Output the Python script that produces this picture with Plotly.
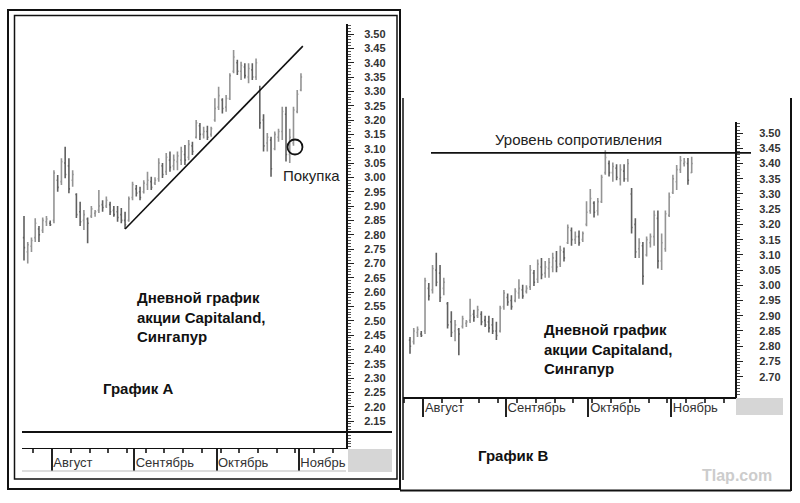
import plotly.graph_objects as go

W, H = 800, 503

# ---------------- data (daily bars, index = trading day) ----------------
HIGH = [2.865, 2.775, 2.790, 2.857, 2.830, 2.860, 2.865, 2.850, 3.025, 3.008,
        3.067, 3.107, 3.067, 3.025, 2.945, 2.915, 2.886, 2.860, 2.900, 2.886,
        2.956, 2.920, 2.933, 2.915, 2.900, 2.900, 2.893, 2.880, 2.933, 2.985,
        2.973, 2.967, 2.990, 3.020, 3.002, 3.000, 3.067, 3.050, 3.085, 3.090,
        3.080, 3.090, 3.107, 3.113, 3.130, 3.124, 3.200, 3.190, 3.177, 3.180,
        3.177, 3.276, 3.316, 3.276, 3.287, 3.363, 3.444, 3.410, 3.403, 3.398,
        3.398, 3.398, 3.415, 3.320, 3.220, 3.155, 3.142, 3.160, 3.170, 3.246,
        3.246, 3.170, 3.246, 3.305, 3.363, 3.395, 3.425, 3.418, 3.418, 3.422]
LOW = [2.710, 2.700, 2.740, 2.775, 2.775, 2.806, 2.830, 2.830, 2.840, 2.950,
       2.973, 2.997, 2.945, 2.967, 2.858, 2.830, 2.816, 2.770, 2.858, 2.863,
       2.876, 2.880, 2.893, 2.869, 2.863, 2.845, 2.840, 2.820, 2.845, 2.920,
       2.933, 2.920, 2.944, 2.956, 2.956, 2.973, 2.985, 2.998, 3.008, 3.020,
       3.025, 3.025, 3.043, 3.043, 3.060, 3.078, 3.136, 3.130, 3.136, 3.130,
       3.142, 3.194, 3.235, 3.223, 3.229, 3.270, 3.363, 3.357, 3.340, 3.345,
       3.328, 3.340, 3.340, 3.170, 3.090, 3.090, 3.002, 3.095, 3.124, 3.130,
       3.055, 3.050, 3.110, 3.224, 3.300, 3.313, 3.369, 3.390, 3.330, 3.369]
OPEN = [2.790, 2.740, 2.760, 2.790, 2.820, 2.815, 2.845, 2.840, 2.850, 2.990,
        2.985, 3.050, 3.040, 2.990, 2.940, 2.880, 2.850, 2.855, 2.865, 2.875,
        2.885, 2.905, 2.900, 2.905, 2.885, 2.880, 2.870, 2.850, 2.850, 2.930,
        2.960, 2.950, 2.950, 2.975, 2.985, 2.980, 2.995, 3.040, 3.020, 3.060,
        3.040, 3.055, 3.060, 3.080, 3.070, 3.110, 3.140, 3.180, 3.150, 3.160,
        3.150, 3.200, 3.245, 3.270, 3.245, 3.275, 3.370, 3.400, 3.370, 3.385,
        3.350, 3.375, 3.350, 3.300, 3.200, 3.120, 3.130, 3.100, 3.140, 3.160,
        3.220, 3.080, 3.120, 3.230, 3.305, 3.340, 3.380, 3.400, 3.400, 3.370]
CLOSE = [2.755, 2.765, 2.780, 2.840, 2.800, 2.850, 2.855, 2.835, 3.015, 2.965,
         3.055, 3.010, 2.960, 3.010, 2.870, 2.845, 2.870, 2.840, 2.890, 2.880,
         2.900, 2.895, 2.920, 2.880, 2.870, 2.860, 2.850, 2.835, 2.925, 2.975,
         2.945, 2.930, 2.980, 2.990, 2.965, 2.990, 3.050, 3.010, 3.070, 3.035,
         3.060, 3.075, 3.090, 3.060, 3.115, 3.090, 3.190, 3.150, 3.160, 3.140,
         3.170, 3.240, 3.285, 3.240, 3.275, 3.355, 3.420, 3.370, 3.390, 3.355,
         3.380, 3.350, 3.400, 3.190, 3.110, 3.140, 3.030, 3.150, 3.160, 3.230,
         3.080, 3.140, 3.235, 3.290, 3.350, 3.380, 3.410, 3.405, 3.345, 3.400]
DAY = list(range(len(HIGH)))

# chart A shows days 0..74, chart B shows days 4..79
A_FIRST, A_END = 0, 75
B_FIRST, B_END = 4, 80

MONTH_NAMES = ["Август", "Сентябрь", "Октябрь", "Ноябрь"]
MONTH_STARTS = [7.5, 29.5, 51.5, 73.5]

A_YTICKS = [2.15, 2.20, 2.25, 2.30, 2.35, 2.40, 2.45, 2.50, 2.55, 2.60,
            2.65, 2.70, 2.75, 2.80, 2.85, 2.90, 2.95, 3.00, 3.05, 3.10,
            3.15, 3.20, 3.25, 3.30, 3.35, 3.40, 3.45, 3.50]
B_YTICKS = [2.70, 2.75, 2.80, 2.85, 2.90, 2.95, 3.00, 3.05, 3.10, 3.15,
            3.20, 3.25, 3.30, 3.35, 3.40, 3.45, 3.50]

TREND_X = [27.0, 74.5]
TREND_Y = [2.820, 3.458]
BUY_X = [72.4]
BUY_Y = [3.106]
RESISTANCE = 3.435

# ---------------- helpers ----------------
def fx(p):
    return p / W


def fy(p):
    return 1 - p / H


BAR_UP = "#949494"
BAR_DN = "#606060"
TICKFONT = dict(family="Liberation Sans Narrow, Arial Narrow, Liberation Sans, Arial",
                size=11, color="#333333", weight="bold")
MONTHFONT = dict(family="Liberation Sans, Arial", size=13, color="#333333")

fig = go.Figure()


def ohlc(first, end, xa, ya):
    return go.Ohlc(
        x=DAY[first:end], open=OPEN[first:end], high=HIGH[first:end],
        low=LOW[first:end], close=CLOSE[first:end],
        xaxis=xa, yaxis=ya,
        increasing=dict(line=dict(color=BAR_UP, width=1.6)),
        decreasing=dict(line=dict(color=BAR_DN, width=1.6)),
        tickwidth=0.3, showlegend=False, hoverinfo="skip")


fig.add_trace(ohlc(A_FIRST, A_END, "x", "y"))
fig.add_trace(ohlc(B_FIRST, B_END, "x2", "y2"))

fig.add_trace(go.Scatter(x=TREND_X, y=TREND_Y, mode="lines", xaxis="x", yaxis="y",
                         line=dict(color="#111111", width=1.6),
                         showlegend=False, hoverinfo="skip"))
fig.add_trace(go.Scatter(x=BUY_X, y=BUY_Y, mode="markers", xaxis="x", yaxis="y",
                         marker=dict(symbol="circle-open", size=15, color="#111111",
                                     line=dict(color="#111111", width=1.8)),
                         cliponaxis=False, showlegend=False, hoverinfo="skip"))


def xaxis_cfg(domain, rng, standoff, ticklen):
    return dict(
        domain=domain, range=rng, showline=True, linecolor="#111111", linewidth=1,
        tickmode="array", tickvals=MONTH_STARTS, ticktext=MONTH_NAMES,
        ticks="outside", ticklen=ticklen, tickwidth=1.5, tickcolor="#222222",
        ticklabelposition="outside right", ticklabelstandoff=standoff,
        tickfont=MONTHFONT,
        minor=dict(tickmode="linear", tick0=2.5, dtick=5, ticks="outside",
                   ticklen=4, tickcolor="#444444"),
        showgrid=False, zeroline=False, rangeslider=dict(visible=False),
        fixedrange=True)


def yaxis_cfg(domain, rng, ticks, standoff):
    return dict(
        domain=domain, range=rng, side="right", showline=True,
        linecolor="#111111", linewidth=2,
        tickmode="array", tickvals=ticks, ticktext=[f"{v:.2f}" for v in ticks],
        ticks="outside", ticklen=6, tickwidth=1, tickcolor="#222222",
        ticklabelstandoff=standoff, tickfont=TICKFONT,
        minor=dict(tickmode="linear", tick0=2.0, dtick=0.01, ticks="outside",
                   ticklen=3, tickcolor="#555555"),
        showgrid=False, zeroline=False, fixedrange=True)


xa = xaxis_cfg([fx(22), fx(346)], [-0.534, 86.03], 2, 22)
xa["anchor"] = "y"
ya = yaxis_cfg([fy(448), fy(24)], [2.056, 3.535], A_YTICKS, 8)
ya["anchor"] = "x"
xb = xaxis_cfg([fx(403), fx(735)], [2.136, 90.53], -3, 18)
xb["anchor"] = "y2"
xb["linewidth"] = 2
yb = yaxis_cfg([fy(397), fy(122)], [2.6332, 3.5364], B_YTICKS, 14)
yb["anchor"] = "x2"

shapes = [
    # chart A frame
    dict(type="rect", xref="paper", yref="paper", x0=fx(8), x1=fx(400), y0=fy(489), y1=fy(10),
         line=dict(color="#111111", width=2)),
    dict(type="rect", xref="paper", yref="paper", x0=fx(14.5), x1=fx(397), y0=fy(479), y1=fy(15.5),
         line=dict(color="#111111", width=1.5)),
    dict(type="line", xref="paper", yref="paper", x0=fx(22), x1=fx(392), y0=fy(432), y1=fy(432),
         line=dict(color="#111111", width=2)),
    dict(type="line", xref="paper", yref="paper", x0=fx(22), x1=fx(346), y0=fy(471), y1=fy(471),
         line=dict(color="#bbbbbb", width=1)),
    dict(type="rect", xref="paper", yref="paper", x0=fx(348), x1=fx(392), y0=fy(472), y1=fy(449),
         fillcolor="#d6d6d6", line=dict(width=0)),
    # chart B frame
    dict(type="line", xref="paper", yref="paper", x0=fx(403), x1=fx(403), y0=fy(480), y1=fy(98),
         line=dict(color="#111111", width=1.5)),
    dict(type="line", xref="paper", yref="paper", x0=fx(400), x1=fx(791), y0=fy(490.5), y1=fy(490.5),
         line=dict(color="#111111", width=2)),
    dict(type="line", xref="paper", yref="paper", x0=fx(791), x1=fx(791), y0=fy(491), y1=fy(98),
         line=dict(color="#111111", width=2)),
    dict(type="rect", xref="paper", yref="paper", x0=fx(736), x1=fx(783), y0=fy(415), y1=fy(398),
         fillcolor="#d6d6d6", line=dict(width=0)),
    # resistance level
    dict(type="line", xref="paper", yref="y2", x0=fx(431), x1=fx(751), y0=RESISTANCE, y1=RESISTANCE,
         line=dict(color="#111111", width=1.6)),
]

BOLD = dict(family="Liberation Sans, Arial", size=15, color="#111111", weight="bold")
PLAIN = dict(family="Liberation Sans, Arial", size=15, color="#222222")
annotations = [
    dict(text="Покупка", x=fx(311.5), y=fy(175), xref="paper", yref="paper",
         showarrow=False, font=PLAIN, xanchor="center", yanchor="middle"),
    dict(text="Уровень сопротивления", x=fx(578), y=fy(139), xref="paper", yref="paper",
         showarrow=False, font=PLAIN, xanchor="center", yanchor="middle"),
    dict(text="Дневной график<br>акции Capitaland,<br>Сингапур", x=fx(135), y=fy(316.5),
         xref="paper", yref="paper", showarrow=False, font=BOLD, align="left",
         xanchor="left", yanchor="middle"),
    dict(text="Дневной график<br>акции Capitaland,<br>Сингапур", x=fx(542), y=fy(348.5),
         xref="paper", yref="paper", showarrow=False, font=BOLD, align="left",
         xanchor="left", yanchor="middle"),
    dict(text="График А", x=fx(101), y=fy(388), xref="paper", yref="paper",
         showarrow=False, font=BOLD, xanchor="left", yanchor="middle"),
    dict(text="График В", x=fx(476), y=fy(455), xref="paper", yref="paper",
         showarrow=False, font=BOLD, xanchor="left", yanchor="middle"),
    dict(text="Tlap.com", x=fx(700), y=fy(475), xref="paper", yref="paper",
         showarrow=False, font=dict(family="Liberation Sans, Arial", size=16,
                                    color="#cccccc", weight="bold"),
         xanchor="left", yanchor="middle"),
]

fig.update_layout(
    width=W, height=H, margin=dict(l=0, r=0, t=0, b=0),
    paper_bgcolor="white", plot_bgcolor="white",
    xaxis=xa, yaxis=ya, xaxis2=xb, yaxis2=yb,
    shapes=shapes, annotations=annotations, showlegend=False,
)

fig.write_html("out.html", config=dict(displayModeBar=False))
